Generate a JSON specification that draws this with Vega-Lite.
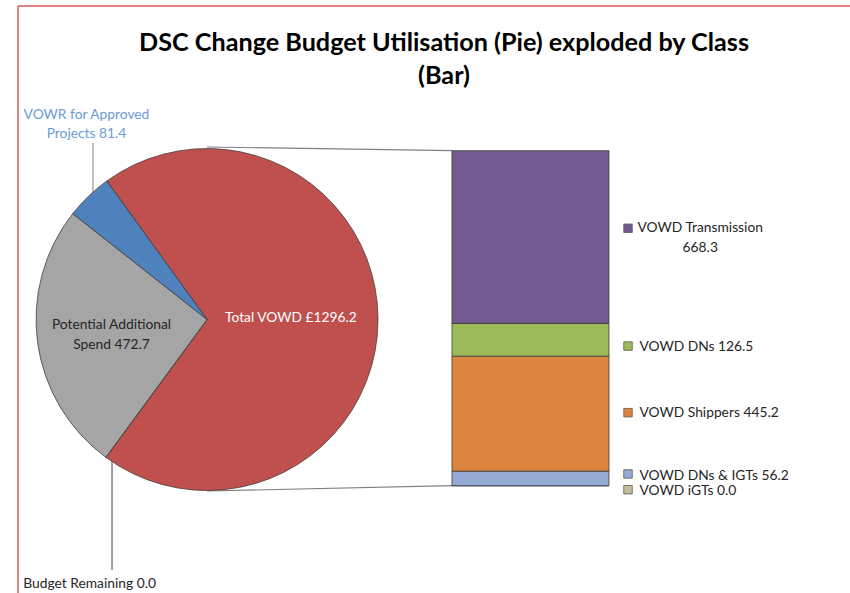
{
  "$schema": "https://vega.github.io/schema/vega-lite/v6.json",
  "width": 832,
  "height": 587,
  "autosize": {"type": "none"},
  "padding": {"left": 18, "top": 6, "right": 0, "bottom": 0},
  "background": "white",
  "view": {"stroke": "#D9595C", "strokeWidth": 1.5, "strokeDash": [832, 1419, 587, 0]},
  "title": {
    "text": ["DSC Change Budget Utilisation (Pie) exploded by Class", "(Bar)"],
    "font": "Lato",
    "fontSize": 25.2,
    "fontWeight": "bold",
    "color": "#000000",
    "lineHeight": 33,
    "frame": "group",
    "anchor": "middle",
    "offset": -83,
    "dx": 10
  },
  "config": {
    "text": {"font": "Lato", "fontSize": 13.8, "color": "#262626", "baseline": "middle"}
  },
  "datasets": {
    "pie": [
      {"slice": "Total VOWD", "value": 1296.2, "rank": 1, "label": "Total VOWD £1296.2"},
      {"slice": "Budget Remaining", "value": 0.0, "rank": 2, "label": "Budget Remaining 0.0"},
      {"slice": "Potential Additional Spend", "value": 472.7, "rank": 3, "label": "Potential Additional\nSpend 472.7"},
      {"slice": "VOWR for Approved Projects", "value": 81.4, "rank": 4, "label": "VOWR for Approved\nProjects 81.4"}
    ],
    "bar": [
      {"class": "VOWD iGTs", "value": 0.0, "rank": 0, "label": "VOWD iGTs 0.0"},
      {"class": "VOWD DNs & IGTs", "value": 56.2, "rank": 1, "label": "VOWD DNs & IGTs 56.2"},
      {"class": "VOWD Shippers", "value": 445.2, "rank": 2, "label": "VOWD Shippers 445.2"},
      {"class": "VOWD DNs", "value": 126.5, "rank": 3, "label": "VOWD DNs 126.5"},
      {"class": "VOWD Transmission", "value": 668.3, "rank": 4, "label": "VOWD Transmission\n668.3"}
    ]
  },
  "layer": [
    {
      "data": {"values": [{"connector": "top"}]},
      "mark": {"type": "rule", "stroke": "#7F7F7F", "strokeWidth": 1.2},
      "encoding": {
        "x": {"datum": 22.72, "type": "quantitative", "scale": {"domain": [0, 100]}, "axis": null},
        "y": {"datum": 1310.5, "type": "quantitative", "scale": {"domain": [-415.1, 1856.1]}, "axis": null},
        "x2": {"datum": 52.16},
        "y2": {"datum": 1296.2}
      }
    },
    {
      "data": {"values": [{"connector": "bottom"}]},
      "mark": {"type": "rule", "stroke": "#7F7F7F", "strokeWidth": 1.2},
      "encoding": {
        "x": {"datum": 22.72, "type": "quantitative", "scale": {"domain": [0, 100]}, "axis": null},
        "y": {"datum": -20.5, "type": "quantitative", "scale": {"domain": [-415.1, 1856.1]}, "axis": null},
        "x2": {"datum": 52.16},
        "y2": {"datum": 0}
      }
    },
    {
      "data": {"values": [{"leader": "VOWR for Approved Projects"}]},
      "mark": {"type": "rule", "stroke": "#808080", "strokeWidth": 1},
      "encoding": {
        "x": {"datum": 9.01, "type": "quantitative", "scale": {"domain": [0, 100]}, "axis": null},
        "y": {"datum": 1326.0, "type": "quantitative", "scale": {"domain": [-415.1, 1856.1]}, "axis": null},
        "y2": {"datum": 1132.6}
      }
    },
    {
      "data": {"values": [{"leader": "Budget Remaining"}]},
      "mark": {"type": "rule", "stroke": "#404040", "strokeWidth": 1},
      "encoding": {
        "x": {"datum": 11.3, "type": "quantitative", "scale": {"domain": [0, 100]}, "axis": null},
        "y": {"datum": 107.2, "type": "quantitative", "scale": {"domain": [-415.1, 1856.1]}, "axis": null},
        "y2": {"datum": -326.1}
      }
    },
    {
      "data": {"name": "pie"},
      "mark": {"type": "arc", "radius": 171, "stroke": "#3A3A3A", "strokeWidth": 0.75},
      "encoding": {
        "x": {"datum": 22.72, "type": "quantitative", "scale": {"domain": [0, 100]}, "axis": null},
        "y": {"datum": 643.1, "type": "quantitative", "scale": {"domain": [-415.1, 1856.1]}, "axis": null},
        "theta": {"field": "value", "type": "quantitative", "stack": true, "scale": {"range": [-0.6266, 5.6566]}},
        "order": {"field": "rank", "type": "quantitative"},
        "color": {
          "field": "slice", "type": "nominal", "legend": null,
          "scale": {
            "domain": ["Total VOWD", "Budget Remaining", "Potential Additional Spend", "VOWR for Approved Projects", "VOWD Transmission", "VOWD DNs", "VOWD Shippers", "VOWD DNs & IGTs", "VOWD iGTs"],
            "range": ["#C0504D", "#C0504D", "#A5A5A5", "#4F81BD", "#725990", "#9BBB59", "#DB843D", "#95ABD3", "#C4BD97"]
          }
        }
      }
    },
    {
      "data": {"name": "pie"},
      "transform": [{"filter": "datum.slice === 'Total VOWD'"}],
      "mark": {"type": "text", "align": "center", "color": "#FFFFFF", "lineBreak": "\n"},
      "encoding": {
        "x": {"datum": 32.8, "type": "quantitative", "scale": {"domain": [0, 100]}, "axis": null},
        "y": {"datum": 647.7, "type": "quantitative", "scale": {"domain": [-415.1, 1856.1]}, "axis": null},
        "text": {"field": "label"}
      }
    },
    {
      "data": {"name": "pie"},
      "transform": [{"filter": "datum.slice === 'Potential Additional Spend'"}],
      "mark": {"type": "text", "align": "center", "lineBreak": "\n", "lineHeight": 20},
      "encoding": {
        "x": {"datum": 11.24, "type": "quantitative", "scale": {"domain": [0, 100]}, "axis": null},
        "y": {"datum": 621.8, "type": "quantitative", "scale": {"domain": [-415.1, 1856.1]}, "axis": null},
        "text": {"field": "label"}
      }
    },
    {
      "data": {"name": "pie"},
      "transform": [{"filter": "datum.slice === 'VOWR for Approved Projects'"}],
      "mark": {"type": "text", "align": "center", "color": "#6A9BD8", "lineBreak": "\n", "lineHeight": 19.3},
      "encoding": {
        "x": {"datum": 8.23, "type": "quantitative", "scale": {"domain": [0, 100]}, "axis": null},
        "y": {"datum": 1434.4, "type": "quantitative", "scale": {"domain": [-415.1, 1856.1]}, "axis": null},
        "text": {"field": "label"}
      }
    },
    {
      "data": {"name": "pie"},
      "transform": [{"filter": "datum.slice === 'Budget Remaining'"}],
      "mark": {"type": "text", "align": "left", "lineBreak": "\n"},
      "encoding": {
        "x": {"datum": 0.64, "type": "quantitative", "scale": {"domain": [0, 100]}, "axis": null},
        "y": {"datum": -380.3, "type": "quantitative", "scale": {"domain": [-415.1, 1856.1]}, "axis": null},
        "text": {"field": "label"}
      }
    },
    {
      "data": {"name": "bar"},
      "transform": [
        {"stack": "value", "groupby": [], "sort": [{"field": "rank", "order": "ascending"}], "as": ["y0", "y1"]},
        {"calculate": "(datum.y0 + datum.y1) / 2", "as": "mid"}
      ],
      "layer": [
        {
          "mark": {"type": "rect", "stroke": "#3A3A3A", "strokeWidth": 0.8},
          "encoding": {
            "x": {"datum": 52.16, "type": "quantitative", "scale": {"domain": [0, 100]}, "axis": null},
            "x2": {"datum": 71.03},
            "y": {"field": "y0", "type": "quantitative", "scale": {"domain": [-415.1, 1856.1]}, "axis": null},
            "y2": {"field": "y1"},
            "color": {
              "field": "class", "type": "nominal", "legend": null,
              "scale": {
                "domain": ["Total VOWD", "Budget Remaining", "Potential Additional Spend", "VOWR for Approved Projects", "VOWD Transmission", "VOWD DNs", "VOWD Shippers", "VOWD DNs & IGTs", "VOWD iGTs"],
                "range": ["#C0504D", "#C0504D", "#A5A5A5", "#4F81BD", "#725990", "#9BBB59", "#DB843D", "#95ABD3", "#C4BD97"]
              }
            }
          }
        },
        {
          "transform": [{"filter": "datum.class === 'VOWD Transmission'"}],
          "layer": [
            {
              "mark": {"type": "point", "shape": "square", "filled": true, "size": 72, "stroke": "#595959", "strokeWidth": 0.8, "opacity": 1, "yOffset": -8.8},
              "encoding": {
                "x": {"datum": 73.32, "type": "quantitative", "scale": {"domain": [0, 100]}, "axis": null},
                "y": {"field": "mid", "type": "quantitative", "scale": {"domain": [-415.1, 1856.1]}, "axis": null},
                "color": {"field": "class", "type": "nominal", "legend": null}
              }
            },
            {
              "mark": {"type": "text", "align": "center", "lineBreak": "\n", "lineHeight": 20, "dy": -8.8},
              "encoding": {
                "x": {"datum": 82.0, "type": "quantitative", "scale": {"domain": [0, 100]}, "axis": null},
                "y": {"field": "mid", "type": "quantitative", "scale": {"domain": [-415.1, 1856.1]}, "axis": null},
                "text": {"field": "label"}
              }
            }
          ]
        },
        {
          "transform": [{"filter": "datum.class === 'VOWD DNs'"}],
          "layer": [
            {
              "mark": {"type": "point", "shape": "square", "filled": true, "size": 72, "stroke": "#595959", "strokeWidth": 0.8, "opacity": 1, "yOffset": 6.3},
              "encoding": {
                "x": {"datum": 73.32, "type": "quantitative", "scale": {"domain": [0, 100]}, "axis": null},
                "y": {"field": "mid", "type": "quantitative", "scale": {"domain": [-415.1, 1856.1]}, "axis": null},
                "color": {"field": "class", "type": "nominal", "legend": null}
              }
            },
            {
              "mark": {"type": "text", "align": "left", "dy": 6.8},
              "encoding": {
                "x": {"datum": 74.7, "type": "quantitative", "scale": {"domain": [0, 100]}, "axis": null},
                "y": {"field": "mid", "type": "quantitative", "scale": {"domain": [-415.1, 1856.1]}, "axis": null},
                "text": {"field": "label"}
              }
            }
          ]
        },
        {
          "transform": [{"filter": "datum.class === 'VOWD Shippers'"}],
          "layer": [
            {
              "mark": {"type": "point", "shape": "square", "filled": true, "size": 72, "stroke": "#595959", "strokeWidth": 0.8, "opacity": 1, "yOffset": -1},
              "encoding": {
                "x": {"datum": 73.32, "type": "quantitative", "scale": {"domain": [0, 100]}, "axis": null},
                "y": {"field": "mid", "type": "quantitative", "scale": {"domain": [-415.1, 1856.1]}, "axis": null},
                "color": {"field": "class", "type": "nominal", "legend": null}
              }
            },
            {
              "mark": {"type": "text", "align": "left", "dy": -0.4},
              "encoding": {
                "x": {"datum": 74.7, "type": "quantitative", "scale": {"domain": [0, 100]}, "axis": null},
                "y": {"field": "mid", "type": "quantitative", "scale": {"domain": [-415.1, 1856.1]}, "axis": null},
                "text": {"field": "label"}
              }
            }
          ]
        },
        {
          "transform": [{"filter": "datum.class === 'VOWD DNs & IGTs'"}],
          "layer": [
            {
              "mark": {"type": "point", "shape": "square", "filled": true, "size": 72, "stroke": "#595959", "strokeWidth": 0.8, "opacity": 1, "yOffset": -4.5},
              "encoding": {
                "x": {"datum": 73.32, "type": "quantitative", "scale": {"domain": [0, 100]}, "axis": null},
                "y": {"field": "mid", "type": "quantitative", "scale": {"domain": [-415.1, 1856.1]}, "axis": null},
                "color": {"field": "class", "type": "nominal", "legend": null}
              }
            },
            {
              "mark": {"type": "text", "align": "left", "dy": -2.8},
              "encoding": {
                "x": {"datum": 74.7, "type": "quantitative", "scale": {"domain": [0, 100]}, "axis": null},
                "y": {"field": "mid", "type": "quantitative", "scale": {"domain": [-415.1, 1856.1]}, "axis": null},
                "text": {"field": "label"}
              }
            }
          ]
        },
        {
          "transform": [{"filter": "datum.class === 'VOWD iGTs'"}],
          "layer": [
            {
              "mark": {"type": "point", "shape": "square", "filled": true, "size": 72, "stroke": "#595959", "strokeWidth": 0.8, "opacity": 1, "yOffset": 4},
              "encoding": {
                "x": {"datum": 73.32, "type": "quantitative", "scale": {"domain": [0, 100]}, "axis": null},
                "y": {"field": "mid", "type": "quantitative", "scale": {"domain": [-415.1, 1856.1]}, "axis": null},
                "color": {"field": "class", "type": "nominal", "legend": null}
              }
            },
            {
              "mark": {"type": "text", "align": "left", "dy": 5.3},
              "encoding": {
                "x": {"datum": 74.7, "type": "quantitative", "scale": {"domain": [0, 100]}, "axis": null},
                "y": {"field": "mid", "type": "quantitative", "scale": {"domain": [-415.1, 1856.1]}, "axis": null},
                "text": {"field": "label"}
              }
            }
          ]
        }
      ]
    }
  ]
}
